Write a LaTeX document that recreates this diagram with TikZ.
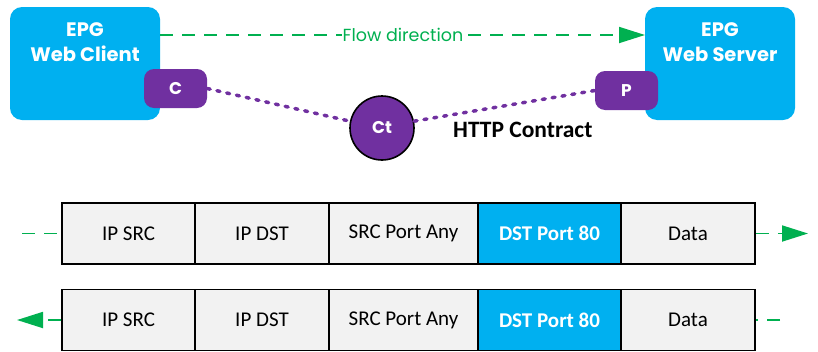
\documentclass[tikz,border=0pt]{standalone}
\usepackage{fontspec}
\setmainfont{Carlito}
\newfontfamily\gothic{Poppins}
\usetikzlibrary{arrows.meta}
\definecolor{epgblue}{HTML}{00B0F0}
\definecolor{ctpurple}{HTML}{7030A0}
\definecolor{flowgreen}{HTML}{00B050}
\definecolor{cellgray}{HTML}{F2F2F2}
\tikzset{
  epgbox/.style={fill=epgblue, rounded corners=12pt, minimum width=150pt, minimum height=113pt, inner sep=0pt},
  epgtext/.style={text=white, font=\gothic\fontsize{19.5}{25}\selectfont\bfseries, align=center, inner sep=0pt},
  tag/.style={fill=ctpurple, rounded corners=10pt, minimum width=63pt, minimum height=39pt, text=white, font=\gothic\fontsize{17}{17}\selectfont\bfseries, inner sep=0pt},
  ctcircle/.style={circle, fill=ctpurple, draw=black, line width=1.6pt, minimum size=64pt, text=white, font=\gothic\fontsize{17}{17}\selectfont\bfseries, inner sep=0pt},
  contractline/.style={ctpurple, line width=3.5pt, line cap=round, dash pattern=on 3pt off 7pt},
  flowline/.style={flowgreen, line width=1.8pt, dash pattern=on 13pt off 9pt},
  flowhead/.style={-{Triangle[length=26pt,width=16pt]}},
  cell/.style={draw=black, line width=1.6pt, fill=cellgray, minimum height=61pt, inner sep=0pt, font=\fontsize{21}{21}\selectfont},
  dstcell/.style={cell, fill=epgblue, text=white, font=\fontsize{21}{21}\selectfont\bfseries},
}
\begin{document}
\begin{tikzpicture}[x=1pt,y=-1pt]
\useasboundingbox (0,0) rectangle (818,351);
% EPG boxes
\node[epgbox] (client) at (85,63.5) {};
\node[epgbox] (server) at (720,63.5) {};
\node[epgtext] (clienttxt) at (85,42) {EPG\\Web Client};
\node[epgtext] (servertxt) at (720,42) {EPG\\Web Server};
% flow direction
\coordinate (flowstart) at (160,35);
\coordinate (flowend) at (645,35);
\draw[flowline, flowhead] (flowstart) -- (flowend);
\node[fill=white, inner sep=1pt, text=flowgreen, font=\gothic\fontsize{17.5}{17.5}\selectfont] (flowtxt) at (403,35) {Flow direction};
% provider / consumer tags
\node[tag] (c) at (175.5,88.5) {C};
\node[tag] (p) at (626.5,90.5) {P};
\node[ctcircle] (ct) at (382,128) {Ct};
\draw[contractline] (c.east) -- (ct.168);
\draw[contractline] (ct.12) -- (p.west);
\node[font=\fontsize{23.5}{23.5}\selectfont\bfseries, anchor=west, inner sep=0pt] (contract) at (453,130) {HTTP Contract};
% row 1
\node[cell, minimum width=133pt] (a1) at (128.5,233.5) {IP SRC};
\node[cell, minimum width=134pt] (b1) at (262,233.5) {IP DST};
\node[cell, minimum width=149pt] (c1) at (403.5,233.5) {SRC Port Any};
\node[dstcell, minimum width=143pt] (d1) at (549.5,233.5) {DST Port 80};
\node[cell, minimum width=134pt] (e1) at (688,233.5) {Data};
\coordinate (in1) at (22,233.5);
\coordinate (out1) at (808,233.5);
\draw[flowline] (in1) -- (a1.west);
\draw[flowline, flowhead] (e1.east) -- (out1);
% row 2
\node[cell, minimum width=133pt] (a2) at (128.5,320) {IP SRC};
\node[cell, minimum width=134pt] (b2) at (262,320) {IP DST};
\node[cell, minimum width=149pt] (c2) at (403.5,320) {SRC Port Any};
\node[dstcell, minimum width=143pt] (d2) at (549.5,320) {DST Port 80};
\node[cell, minimum width=134pt] (e2) at (688,320) {Data};
\coordinate (in2) at (17,320);
\coordinate (out2) at (780,320);
\draw[flowline, flowhead] (a2.west) -- (in2);
\draw[flowline] (out2) -- (e2.east);
\end{tikzpicture}
\end{document}
